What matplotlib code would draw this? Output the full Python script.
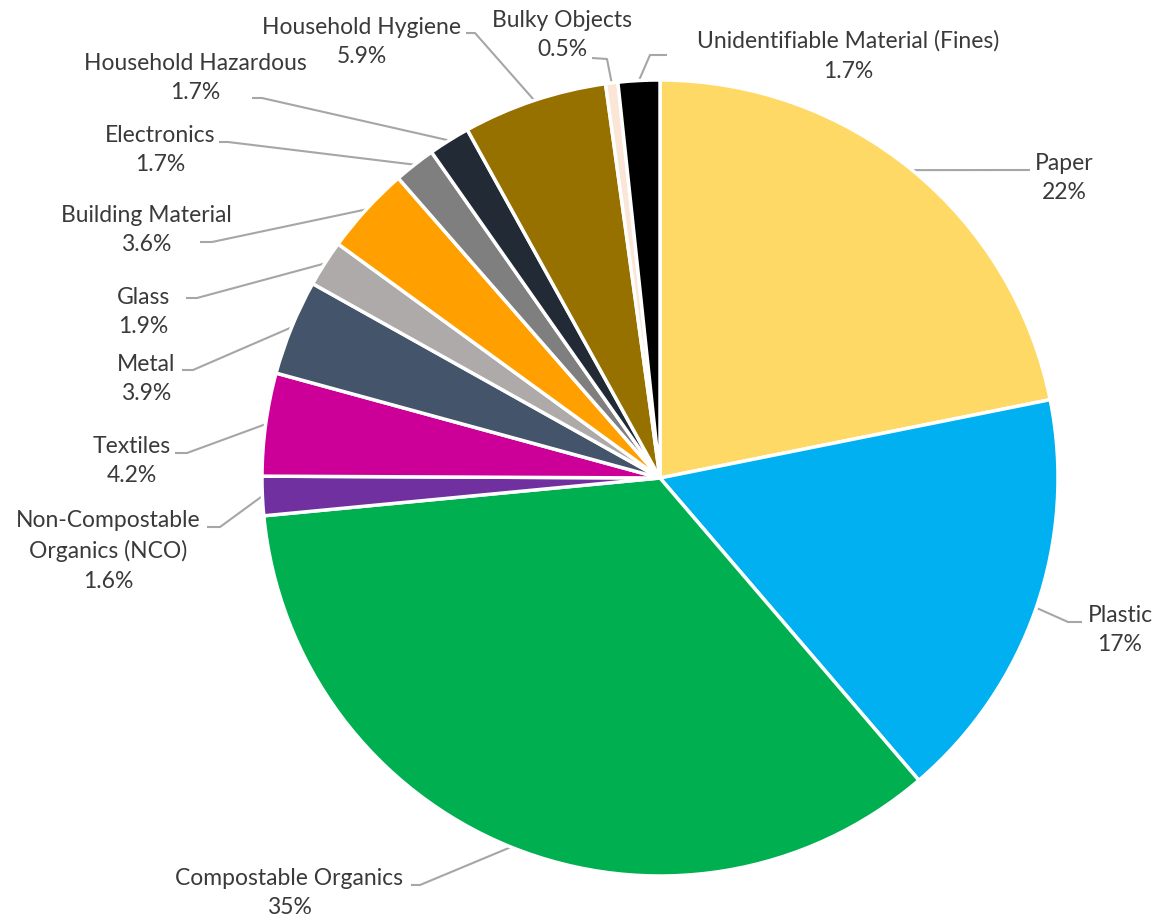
import numpy as np
import matplotlib.pyplot as plt

W, H = 1158, 922

categories = ['Paper', 'Plastic', 'Compostable Organics', 'Non-Compostable\nOrganics (NCO)',
              'Textiles', 'Metal', 'Glass', 'Building Material', 'Electronics',
              'Household Hazardous', 'Household Hygiene', 'Bulky Objects',
              'Unidentifiable Material (Fines)']
shares = [22, 17, 35, 1.6, 4.2, 3.9, 1.9, 3.6, 1.7, 1.7, 5.9, 0.5, 1.7]
colors = ['#FFD966', '#00B0F0', '#00B050', '#7030A0', '#CC0099', '#44546A', '#AEAAAA',
          '#FFA000', '#7F7F7F', '#222A35', '#977100', '#FBE5D6', '#000000']

# label layout in pixel coords (x, y from top): block centre, then leader elbow points
label_pos = [(1064, 178), (1120, 630), (289, 893), (108, 551), (132, 461), (146, 379),
             (143, 312), (146, 230), (160, 150), (195, 78), (362, 42), (562, 35), (848, 56)]
leader_pts = [[(1030, 170)],
              [(1068, 622), (1082, 622)],
              [(420, 885), (411, 885)],
              [(220, 527), (207, 527)],
              [(187, 453), (175, 453)],
              [(193, 370), (182, 370)],
              [(197, 298), (186, 298)],
              [(212, 242), (200, 242)],
              [(228, 142), (219, 142)],
              [(262, 98), (252, 98)],
              [(475, 33), (466, 33)],
              [(607, 59), (592, 58)],
              [(650, 55), (667, 55)]]

cx, cy, R = 660, 478, 398
text_color = '#3A3A3A'
line_color = '#A6A6A6'


def fy(y):
    return H - y


fig = plt.figure(figsize=(W / 100, H / 100), dpi=100)
ax = fig.add_axes([0, 0, 1, 1])

wedges, _ = ax.pie(shares, colors=colors, startangle=90, counterclock=False,
                   center=(cx, fy(cy)), radius=R,
                   wedgeprops=dict(edgecolor='white', linewidth=2.5))

for w, name, v, (tx, ty), pts in zip(wedges, categories, shares, label_pos, leader_pts):
    mid = np.deg2rad((w.theta1 + w.theta2) / 2)
    x0 = cx + R * np.cos(mid)
    y0 = fy(cy) + R * np.sin(mid)
    xs = [x0] + [p[0] for p in pts]
    ys = [y0] + [fy(p[1]) for p in pts]
    ax.plot(xs, ys, color=line_color, lw=1.5, solid_capstyle='butt', zorder=0)
    ax.text(tx, fy(ty), f'{name}\n{v:g}%', ha='center', va='center',
            multialignment='center', fontsize=16.5, family='Lato',
            color=text_color, linespacing=1.5)

ax.set_xlim(0, W)
ax.set_ylim(0, H)
ax.set_aspect('equal')
ax.axis('off')

fig.savefig('out.png', dpi=100, facecolor='white')
